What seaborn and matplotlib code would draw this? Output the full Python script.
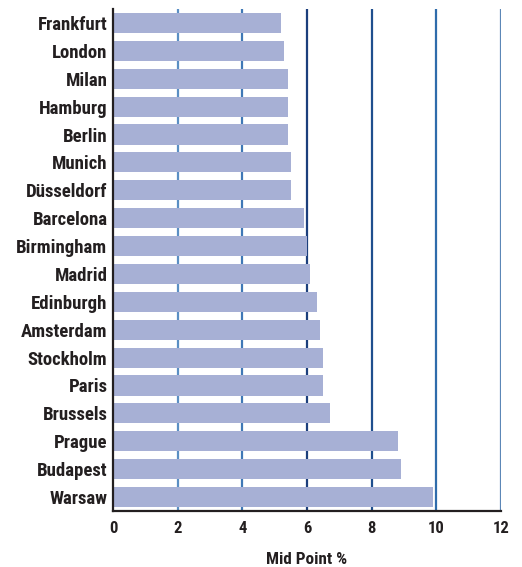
import matplotlib
matplotlib.use("Agg")
import matplotlib.pyplot as plt
import seaborn as sns
import pandas as pd

cities = ["Frankfurt", "London", "Milan", "Hamburg", "Berlin", "Munich",
          "Düsseldorf", "Barcelona", "Birmingham", "Madrid", "Edinburgh",
          "Amsterdam", "Stockholm", "Paris", "Brussels", "Prague",
          "Budapest", "Warsaw"]
mid_point = [5.2, 5.3, 5.4, 5.4, 5.4, 5.5, 5.5, 5.9, 6.0, 6.1, 6.3,
             6.4, 6.5, 6.5, 6.7, 8.8, 8.9, 9.9]
x_ticks = [0, 2, 4, 6, 8, 10, 12]

df = pd.DataFrame({"city": cities, "value": mid_point})

sns.set_theme(style="white")
plt.rcParams["font.family"] = ["Roboto Condensed", "DejaVu Sans"]
ink = "#231f20"

fig = plt.figure(figsize=(5.22, 5.67), dpi=100)
ax = fig.add_axes([0.2165, 0.0988, 0.7433, 0.8853])

sns.barplot(data=df, x="value", y="city", color="#a7b0d5", saturation=1,
            width=0.72, linewidth=0, ax=ax)
for p in ax.patches:
    p.set_zorder(3)

ax.set_xlim(0, 12)
ax.set_xticks(x_ticks)
ax.set_xticklabels([str(t) for t in x_ticks])

# vertical grid lines, each in a slightly different blue
grid_colors = {2: "#5b8fc4", 4: "#3f78b6", 6: "#1c3f7c", 8: "#1f4f8e",
               10: "#2f6cab", 12: "#5c87b7"}
for xv, c in grid_colors.items():
    ax.axvline(xv, color=c, lw=1.6, zorder=1)

for side in ["top", "right"]:
    ax.spines[side].set_visible(False)
for side in ["left", "bottom"]:
    ax.spines[side].set_visible(True)
    ax.spines[side].set_color(ink)
    ax.spines[side].set_linewidth(1.6)
    ax.spines[side].set_zorder(4)

ax.tick_params(axis="both", length=0, colors=ink)
ax.tick_params(axis="y", pad=4)
ax.tick_params(axis="x", pad=7)
for lbl in ax.get_yticklabels():
    lbl.set_fontsize(13.5)
    lbl.set_fontweight("bold")
for lbl in ax.get_xticklabels():
    lbl.set_fontsize(12)
    lbl.set_fontweight("bold")

ax.set_ylabel("")
ax.set_xlabel("Mid Point %", fontsize=12.3, fontweight="bold", color=ink, labelpad=12)

fig.savefig("out.png", dpi=100)
